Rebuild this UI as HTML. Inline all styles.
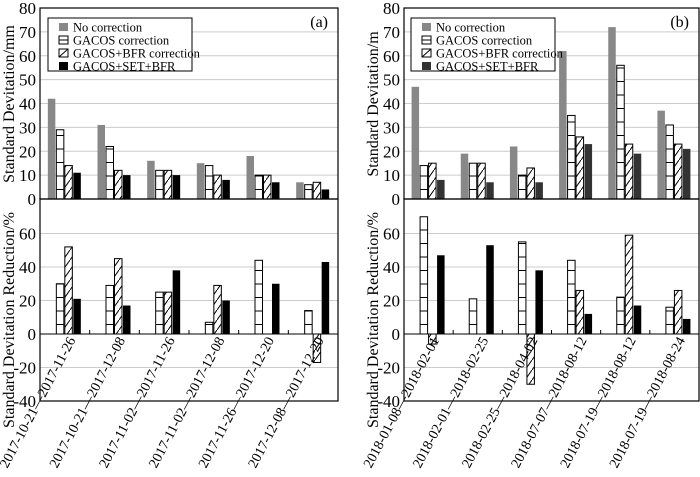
<!DOCTYPE html>
<html><head><meta charset="utf-8"><style>
body{margin:0;background:#fff;}
svg{display:block;font-family:"Liberation Serif",serif;}
</style></head><body>
<svg id="c" width="700" height="477">
<defs>
<pattern id="hz" width="8" height="13.5" patternUnits="userSpaceOnUse"><rect width="8" height="13.5" fill="#fff"/><line x1="0" y1="0.5" x2="8" y2="0.5" stroke="#000" stroke-width="1"/></pattern>
<pattern id="dg" width="7" height="10" patternUnits="userSpaceOnUse"><rect width="7" height="10" fill="#fff"/><line x1="0" y1="10" x2="7" y2="0" stroke="#000" stroke-width="1"/></pattern>
</defs>
</svg>
<script>
const catsA=["2017-10-21—2017-11-26","2017-10-21—2017-12-08","2017-11-02—2017-11-26","2017-11-02—2017-12-08","2017-11-26—2017-12-20","2017-12-08—2017-12-20"];
const catsB=["2018-01-08—2018-02-01","2018-02-01—2018-02-25","2018-02-25—2018-04-02","2018-07-07—2018-08-12","2018-07-19—2018-08-12","2018-07-19—2018-08-24"];
const aNo=[42,31,16,15,18,7];
const aGacos=[29,22,12,14,10,6];
const aBfr=[14,12,12,10,10,7];
const aSet=[11,10,10,8,7,4];
const aRedGacos=[30,29,25,7,44,14];
const aRedBfr=[52,45,25,29,0,-17];
const aRedSet=[21,17,38,20,30,43];
const bNo=[47,19,22,62,72,37];
const bGacos=[14,15,10,35,56,31];
const bBfr=[15,15,13,26,23,23];
const bSet=[8,7,7,23,19,21];
const bRedGacos=[70,21,55,44,22,16];
const bRedBfr=[-6,0,-30,26,59,26];
const bRedSet=[47,53,38,12,17,9];
const topTicks=[0,10,20,30,40,50,60,70,80];
const botTicks=[-40,-20,0,20,40,60];
const legendLabels=["No correction","GACOS correction","GACOS+BFR correction","GACOS+SET+BFR"];

const svg=document.getElementById('c');
const NS="http://www.w3.org/2000/svg";
function mk(tag,attrs,parent){const e=document.createElementNS(NS,tag);for(const k in attrs)e.setAttribute(k,attrs[k]);(parent||svg).appendChild(e);return e;}

function panel(x0,x1,cats,no,ga,bf,se,rga,rbf,rse,title,lab,setColor,legX){
  const g=mk('g',{});
  
  
  const yT=v=>199-v*(191/80);
  const yB=v=>401-(v+40)*(201/120);
  const gw=(x1-x0)/cats.length;
  const bx=(i,k)=>x0+gw*i+gw/2-17+k*8.5;
  topTicks.forEach(t=>{if(t>0&&t<80)mk('line',{x1:x0,x2:x1,y1:yT(t),y2:yT(t),stroke:'#ccc','stroke-width':1},g);});
  botTicks.forEach(t=>{if(t!==0&&t>-40)mk('line',{x1:x0,x2:x1,y1:yB(t),y2:yB(t),stroke:'#ccc','stroke-width':1},g);});
  const series=[[no,'#888','none'],[ga,'url(#hz)','#000'],[bf,'url(#dg)','#000'],[se,setColor,'none']];
  series.forEach((s,k)=>{s[0].forEach((v,i)=>{
    const r=mk('rect',{x:bx(i,k),y:yT(v),width:7.5,height:yT(0)-yT(v),fill:s[1],stroke:s[2],'stroke-width':1},g);
    
    
  });});
  const rs=[[rga,'url(#hz)','#000'],[rbf,'url(#dg)','#000'],[rse,'#000','none']];
  rs.forEach((s,k)=>{s[0].forEach((v,i)=>{
    if(v===0)return;
    const ya=Math.min(yB(v),yB(0)),h=Math.abs(yB(v)-yB(0));
    const r=mk('rect',{x:bx(i,k+1),y:ya,width:7.5,height:h,fill:s[1],stroke:s[2],'stroke-width':1},g);
    
    
  });});
  mk('line',{x1:x0,x2:x1,y1:yB(0),y2:yB(0),stroke:'#000','stroke-width':1},g);
  for(let i=1;i<cats.length;i++)mk('line',{x1:x0+gw*i,x2:x0+gw*i,y1:yB(0),y2:yB(0)-4,stroke:'#000'},g);
  mk('rect',{x:x0,y:8,width:x1-x0,height:191,fill:'none',stroke:'#000','stroke-width':1.2},g);
  mk('rect',{x:x0,y:199,width:x1-x0,height:202,fill:'none',stroke:'#000','stroke-width':1.2},g);
  topTicks.forEach(t=>{const e=mk('text',{x:x0-4,y:yT(t)+6,'text-anchor':'end','font-size':17},g);e.textContent=t;});
  botTicks.forEach(t=>{const e=mk('text',{x:x0-4,y:yB(t)+6,'text-anchor':'end','font-size':17},g);e.textContent=t;});
  const t1=mk('text',{x:x0-26,y:104,'text-anchor':'middle','font-size':16,transform:`rotate(-90 ${x0-26} 104)`},g);t1.textContent=title;
  
  const t2=mk('text',{x:x0-26,y:320,'text-anchor':'middle','font-size':16,transform:`rotate(-90 ${x0-26} 320)`},g);t2.textContent='Standard Devitation Reduction/%';
  
  cats.forEach((c,i)=>{const cx=x0+gw*i+gw/2+11,cy=340;
    const e=mk('text',{x:cx,y:cy,'text-anchor':'end','font-size':14,textLength:146,lengthAdjust:'spacingAndGlyphs',transform:`rotate(-62 ${cx} ${cy})`},g);e.textContent=c;
    });
  const pl=mk('text',{x:x1-10,y:27,'text-anchor':'end','font-size':16},g);pl.textContent='('+lab+')';
  const lg=mk('g',{},g);
  
  
  mk('rect',{x:legX,y:18,width:144,height:53,fill:'#fff',stroke:'#000','stroke-width':1},lg);
  const sw=[['#888','none'],['#fff','#000'],['#fff','#000'],[setColor,'none']];
  legendLabels.forEach((l,k)=>{const y=21+k*13;
    mk('rect',{x:legX+11,y:y+2,width:9,height:8,fill:sw[k][0],stroke:sw[k][1]},lg);
    if(k===1)mk('line',{x1:legX+11,x2:legX+20,y1:y+6,y2:y+6,stroke:'#000'},lg);
    if(k===2)mk('line',{x1:legX+11,x2:legX+20,y1:y+10,y2:y+2,stroke:'#000'},lg);
    const e=mk('text',{x:legX+25,y:y+10.5,'font-size':12.5},lg);e.textContent=l;
    });
}
panel(40,338,catsA,aNo,aGacos,aBfr,aSet,aRedGacos,aRedBfr,aRedSet,'Standard Devitation/mm','a','#000',48);
panel(404,699,catsB,bNo,bGacos,bBfr,bSet,bRedGacos,bRedBfr,bRedSet,'Standard Devitation/m','b','#333',411);
</script>
</body></html>
